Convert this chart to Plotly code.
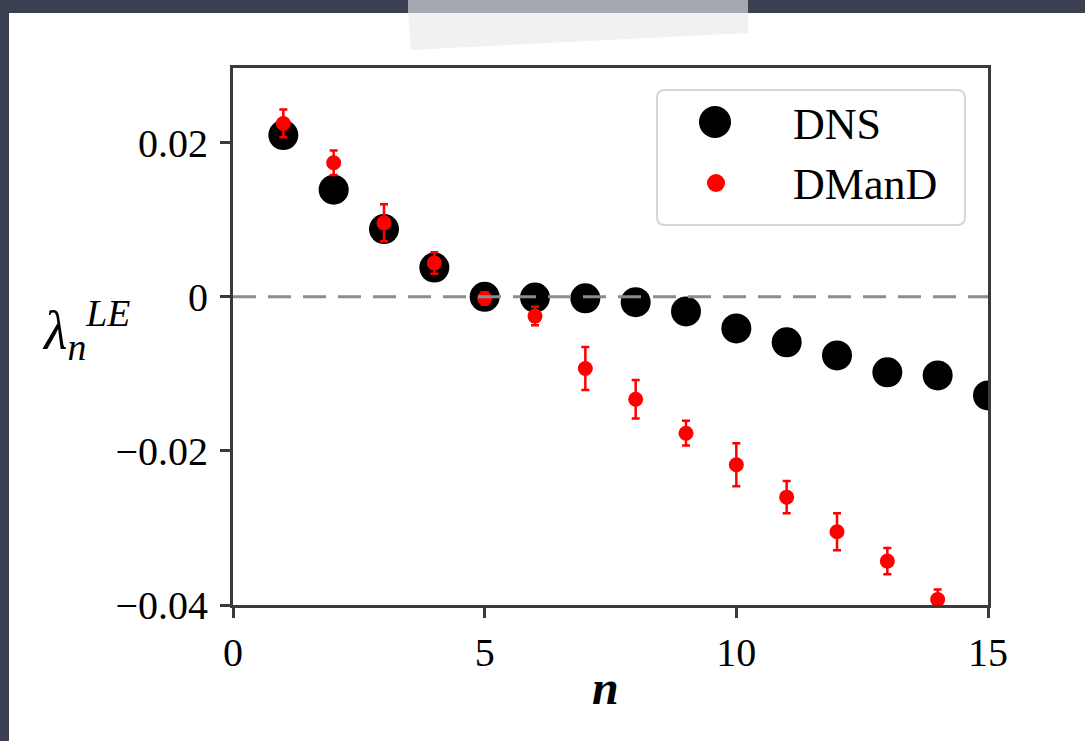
import plotly.graph_objects as go

# ---------------- data ----------------
n_dns = [1, 2, 3, 4, 5, 6, 7, 8, 9, 10, 11, 12, 13, 14, 15]
lam_dns = [0.0210, 0.0139, 0.0088, 0.0038, 0.0000, -0.0001, -0.0002, -0.0007,
           -0.0019, -0.0041, -0.0059, -0.0076, -0.0098, -0.0102, -0.0128]

n_dmand = [1, 2, 3, 4, 5, 6, 7, 8, 9, 10, 11, 12, 13, 14]
lam_dmand = [0.0225, 0.0174, 0.0096, 0.0044, -0.0002, -0.0025, -0.0093, -0.0133,
             -0.0177, -0.0218, -0.0260, -0.0305, -0.0343, -0.0393]
err_dmand = [0.0018, 0.0016, 0.0024, 0.0014, 0.0008, 0.0012, 0.0028, 0.0025,
             0.0016, 0.0028, 0.0021, 0.0024, 0.0017, 0.0013]

x_ticks = [0, 5, 10, 15]
x_ticktext = ["0", "5", "10", "15"]
y_ticks = [0.02, 0.0, -0.02, -0.04]
y_ticktext = ["0.02", "0", "\u22120.02", "\u22120.04"]

x_range = [0, 15]
y_range = [-0.04, 0.0297]

legend_names = ["DNS", "DManD"]

# ---------------- layout geometry (pixels) ----------------
W, H = 1085, 741
L, R, T, B = 233, 988, 68, 605
PW, PH = R - L, B - T


def px(x):
    return (x - L) / PW


def py(y):
    return (B - y) / PH


FONT = "Liberation Serif, Times New Roman, serif"
AX = "#3a3a3a"
BG = "#3b4050"

fig = go.Figure()

fig.add_trace(go.Scatter(
    x=n_dns, y=lam_dns, mode="markers", name=legend_names[0],
    marker=dict(size=30, color="black", opacity=1, line=dict(width=0)),
    showlegend=False, cliponaxis=True,
))
fig.add_trace(go.Scatter(
    x=n_dmand, y=lam_dmand, mode="markers", name=legend_names[1],
    marker=dict(size=15, color="#ff0000", opacity=1, line=dict(width=0)),
    error_y=dict(type="data", array=err_dmand, visible=True,
                 color="#ff0000", thickness=2.5, width=4),
    showlegend=False, cliponaxis=False,
))

shapes = []
# white page panel
shapes.append(dict(type="rect", xref="paper", yref="paper",
                   x0=px(9), x1=px(1090), y0=py(13), y1=py(745),
                   fillcolor="white", line=dict(width=0), layer="below"))
# grey tab at the top
shapes.append(dict(type="rect", xref="paper", yref="paper",
                   x0=px(408), x1=px(748), y0=py(-2), y1=py(14),
                   fillcolor="#a6a8b1", line=dict(width=0), layer="below"))
shapes.append(dict(type="path", xref="paper", yref="paper",
                   path=f"M {px(408)},{py(13)} L {px(748)},{py(13)} L {px(748)},{py(33)} "
                        f"L {px(411)},{py(50)} Z",
                   fillcolor="#f1f1f2", line=dict(width=0), layer="below"))
# zero dashed line
shapes.append(dict(type="line", xref="x", yref="y", x0=x_range[0], x1=x_range[1],
                   y0=0, y1=0, line=dict(color="#8c8c8c", width=3, dash="23px,12px"),
                   layer="above"))
# legend box with rounded corners (outline only)
lx0, lx1, ly0, ly1 = px(657), px(965), py(90), py(225)
rx = 8 / PW
ry = 8 / PH
path = (f"M {lx0+rx},{ly0} L {lx1-rx},{ly0} Q {lx1},{ly0} {lx1},{ly0-ry} "
        f"L {lx1},{ly1+ry} Q {lx1},{ly1} {lx1-rx},{ly1} "
        f"L {lx0+rx},{ly1} Q {lx0},{ly1} {lx0},{ly1+ry} "
        f"L {lx0},{ly0-ry} Q {lx0},{ly0} {lx0+rx},{ly0} Z")
shapes.append(dict(type="path", xref="paper", yref="paper", path=path,
                   fillcolor="rgba(0,0,0,0)",
                   line=dict(color="#d6d6d6", width=2), layer="above"))
# legend swatches
for cx, cy, d, col in [(715, 122, 32, "black"), (716, 183, 18, "#ff0000")]:
    shapes.append(dict(type="circle", xref="paper", yref="paper",
                       x0=px(cx - d / 2), x1=px(cx + d / 2),
                       y0=py(cy + d / 2), y1=py(cy - d / 2),
                       fillcolor=col, line=dict(width=0), layer="above"))

annotations = [
    dict(text=legend_names[0], x=px(791), y=py(124), xref="paper", yref="paper",
         xanchor="left", yanchor="middle", showarrow=False,
         font=dict(family=FONT, size=44, color="black")),
    dict(text=legend_names[1], x=px(791), y=py(184), xref="paper", yref="paper",
         xanchor="left", yanchor="middle", showarrow=False,
         font=dict(family=FONT, size=44, color="black")),
    # y-axis label  lambda_n^LE
    dict(text="<i>λ</i><sub><i>n</i></sub><sup><i>LE</i></sup>",
         x=px(40), y=py(330), xref="paper", yref="paper",
         xanchor="left", yanchor="middle", showarrow=False,
         font=dict(family=FONT, size=54, color="black")),
    # x-axis label
    dict(text="<b><i>n</i></b>", x=px(605), y=py(688), xref="paper", yref="paper",
         xanchor="center", yanchor="middle", showarrow=False,
         font=dict(family=FONT, size=48, color="black")),
]

fig.update_layout(
    width=W, height=H,
    margin=dict(l=L, r=W - R, t=T, b=H - B, pad=0),
    paper_bgcolor=BG, plot_bgcolor="white",
    showlegend=False,
    shapes=shapes, annotations=annotations,
    xaxis=dict(range=x_range, tickvals=x_ticks, ticktext=x_ticktext,
               showgrid=False, zeroline=False, showline=True, mirror=True,
               linecolor=AX, linewidth=3, ticks="outside", ticklen=10,
               tickwidth=2.5, tickcolor=AX,
               tickfont=dict(family=FONT, size=40, color="black")),
    yaxis=dict(range=y_range, tickvals=y_ticks, ticktext=y_ticktext,
               showgrid=False, zeroline=False, showline=True, mirror=True,
               linecolor=AX, linewidth=3, ticks="outside", ticklen=10,
               tickwidth=2.5, tickcolor=AX, ticklabelstandoff=4,
               tickfont=dict(family=FONT, size=40, color="black")),
)

fig.write_html("out.html")
